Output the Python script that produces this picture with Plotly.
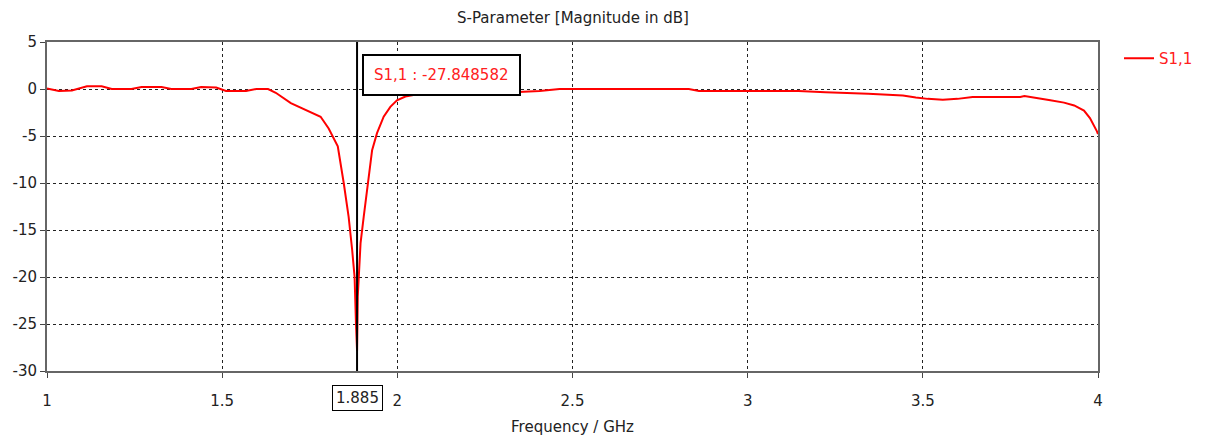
import plotly.graph_objects as go

freq_ghz = [1.0, 1.034, 1.071, 1.114, 1.156, 1.185, 1.241, 1.270, 1.327, 1.355,
            1.412, 1.440, 1.483, 1.511, 1.568, 1.597, 1.631, 1.653, 1.696, 1.733,
            1.781, 1.804, 1.830, 1.847, 1.861, 1.871, 1.878, 1.882, 1.885, 1.887,
            1.895, 1.904, 1.914, 1.928, 1.942, 1.961, 1.980, 1.999, 2.023, 2.065,
            2.122, 2.236, 2.330, 2.406, 2.463, 2.832, 2.861, 3.145, 3.222, 3.344,
            3.401, 3.443, 3.480, 3.514, 3.557, 3.599, 3.642, 3.778, 3.790, 3.827,
            3.864, 3.903, 3.932, 3.960, 3.977, 3.997, 4.0]
s11_db = [0.05, -0.2, -0.15, 0.3, 0.3, 0.0, 0.0, 0.2, 0.2, 0.0,
          0.0, 0.2, 0.15, -0.2, -0.2, 0.0, 0.0, -0.4, -1.5, -2.1,
          -2.95, -4.2, -6.1, -10.0, -13.6, -17.1, -20.0, -25.0, -27.848582, -22.1,
          -16.4, -13.6, -10.7, -6.5, -4.7, -2.95, -1.9, -1.2, -0.8, -0.5,
          -0.4, -0.4, -0.35, -0.2, 0.0, 0.0, -0.2, -0.2, -0.35, -0.5,
          -0.6, -0.7, -0.9, -1.05, -1.15, -1.05, -0.85, -0.85, -0.75, -0.95,
          -1.2, -1.45, -1.75, -2.3, -3.1, -4.5, -4.8]

x_ticks = [1, 1.5, 2, 2.5, 3, 3.5, 4]
x_tick_labels = ["1", "1.5", "2", "2.5", "3", "3.5", "4"]
y_ticks = [-30, -25, -20, -15, -10, -5, 0, 5]
y_tick_labels = ["-30", "-25", "-20", "-15", "-10", "-5", "0", "5"]

marker_freq = 1.885
marker_value = -27.848582
series_name = "S1,1"

FONT = "DejaVu Sans"
TXT = "#222"

fig = go.Figure()
fig.add_trace(go.Scatter(
    x=freq_ghz, y=s11_db, mode="lines", name=series_name,
    line=dict(color="#ff0000", width=2),
))
# marker line
fig.add_trace(go.Scatter(
    x=[marker_freq, marker_freq], y=[5, -30], mode="lines",
    line=dict(color="black", width=2), showlegend=False, hoverinfo="skip",
))

fig.add_annotation(
    x=2.125, y=1.5, xref="x", yref="y",
    text=f"{series_name} : {marker_value:.6f}",
    showarrow=False, font=dict(family=FONT, size=15, color="#ff2020"),
    bgcolor="white", bordercolor="black", borderwidth=2, borderpad=10,
)
fig.add_annotation(
    x=marker_freq, y=-0.083, xref="x", yref="paper", yanchor="middle",
    text=f"{marker_freq:.3f}",
    showarrow=False, font=dict(family=FONT, size=15, color=TXT),
    bgcolor="white", bordercolor="black", borderwidth=1, borderpad=3,
)

fig.update_layout(
    width=1210, height=436,
    margin=dict(l=47, r=107, t=42, b=65),
    paper_bgcolor="white", plot_bgcolor="white",
    font=dict(family=FONT, size=14, color=TXT),
    title=dict(text="S-Parameter [Magnitude in dB]", x=573/1210, xanchor="center",
               y=1 - 18/436, yanchor="middle", font=dict(family=FONT, size=15, color=TXT)),
    legend=dict(x=1.02, y=1.0, xanchor="left", yanchor="top",
                font=dict(family=FONT, size=15, color="#ff2020"),
                bgcolor="rgba(0,0,0,0)"),
    showlegend=True,
)
fig.update_xaxes(
    range=[1, 4], tickvals=x_ticks, ticktext=x_tick_labels,
    showgrid=True, gridcolor="#222", griddash="3px,3px", gridwidth=1,
    showline=True, linecolor="#666", linewidth=2, mirror=True,
    ticks="outside", ticklen=5, tickcolor="#444",
    ticklabelstandoff=10, tickfont=dict(family=FONT, size=15, color=TXT),
    zeroline=False, automargin=False,
    title=dict(text="Frequency / GHz", font=dict(family=FONT, size=15, color=TXT), standoff=14),
)
fig.update_yaxes(
    range=[-30, 5], tickvals=y_ticks, ticktext=y_tick_labels,
    showgrid=True, gridcolor="#222", griddash="3px,3px", gridwidth=1,
    showline=True, linecolor="#666", linewidth=2, mirror=True,
    ticks="outside", ticklen=5, tickcolor="#444",
    tickfont=dict(family=FONT, size=15, color=TXT),
    zeroline=False, automargin=False,
)

fig.write_html("out.html")
